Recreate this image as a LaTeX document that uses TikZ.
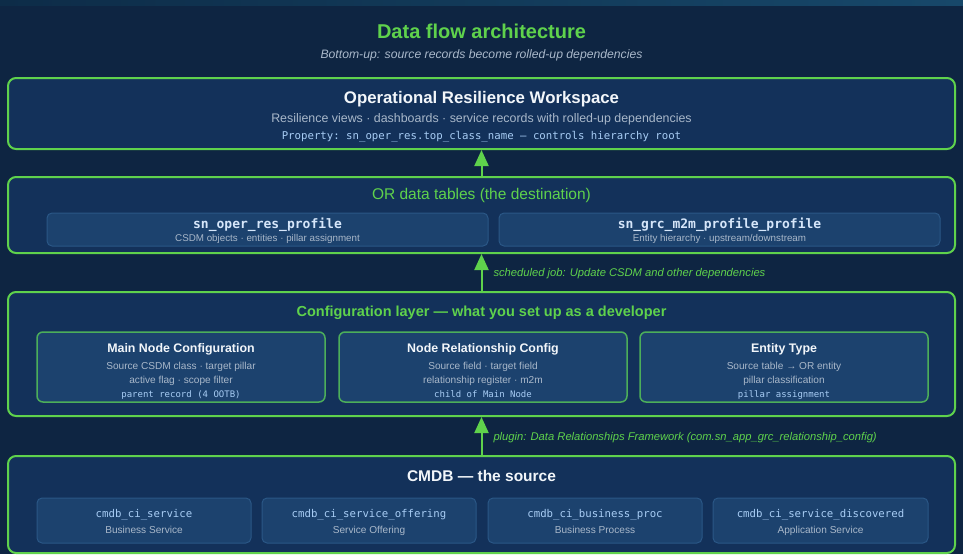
\documentclass[tikz,border=0pt]{standalone}
\usepackage{fontspec}
\setmainfont{Liberation Sans}
\setmonofont{DejaVu Sans Mono}
\usepackage{xcolor}
\usetikzlibrary{positioning}
\usetikzlibrary{arrows.meta}
\usetikzlibrary{calc}

\definecolor{bgnavy}{HTML}{0E2542}
\definecolor{stripleft}{HTML}{0D2C48}
\definecolor{stripright}{HTML}{17486A}
\definecolor{layerfill}{HTML}{13315A}
\definecolor{innerfill}{HTML}{1C426E}
\definecolor{innerline}{HTML}{2A5786}
\definecolor{flowgreen}{HTML}{5FD24C}
\definecolor{cfgline}{HTML}{4CAE5A}
\definecolor{subgray}{HTML}{A9B8CA}
\definecolor{monoblue}{HTML}{A8CDF5}
\definecolor{tableblue}{HTML}{D6E6FA}
\definecolor{headwhite}{HTML}{F2F6FA}

\newcommand{\fsz}[1]{\fontsize{#1}{#1}\selectfont}

\tikzset{
  layer/.style={draw=flowgreen, line width=2pt, fill=layerfill, rounded corners=8pt,
    inner sep=0pt, minimum width=947pt},
  tablebox/.style={draw=innerline, line width=1pt, fill=innerfill, rounded corners=5pt,
    inner sep=0pt},
  cfgbox/.style={draw=cfgline, line width=1.5pt, fill=innerfill, rounded corners=6pt,
    inner sep=0pt, minimum width=288pt, minimum height=70pt},
  txt/.style={inner sep=0pt, anchor=base},
  flow/.style={draw=flowgreen, line width=2pt, -{Triangle[width=14pt,length=16pt]}},
  flowlabel/.style={inner sep=0pt, anchor=base west, text=flowgreen, font=\fsz{11.2}\itshape},
}

\begin{document}
\begin{tikzpicture}[x=1pt, y=-1pt]
\fill[bgnavy] (0,0) rectangle (963,554);
\shade[left color=stripleft, right color=stripright] (0,0) rectangle (963,5);
\useasboundingbox (0,0) rectangle (963,554);

% heading
\node[txt, text=flowgreen, font=\fsz{20}\bfseries] (heading) at (481.5,38) {Data flow architecture};
\node[txt, text=subgray, font=\fsz{12.2}\itshape] (subheading) at (481.5,58) {Bottom-up: source records become rolled-up dependencies};

% workspace
\node[layer, minimum height=71pt] (ows) at (481.5,113.5) {};
\node[txt, text=headwhite, font=\fsz{16.8}\bfseries] (owstitle) at (481.5,103) {Operational Resilience Workspace};
\node[txt, text=subgray, font=\fsz{12.4}] (owsviews) at (481.5,122) {Resilience views · dashboards · service records with rolled-up dependencies};
\node[txt, text=monoblue, font=\fsz{10.7}\ttfamily] (owsprop) at (481.5,139) {Property: sn\_oper\_res.top\_class\_name — controls hierarchy root};

% OR data tables
\node[layer, minimum height=76pt] (ortables) at (481.5,215) {};
\node[txt, text=flowgreen, font=\fsz{15.5}] (ortitle) at (481.5,199) {OR data tables (the destination)};
\node[tablebox, minimum width=441pt, minimum height=33pt] (profile) at (267.5,229.5) {};
\node[tablebox, minimum width=441pt, minimum height=33pt] (m2m) at (719.5,229.5) {};
\node[txt, text=tableblue, font=\fsz{13}\ttfamily\bfseries] at (267.5,228) {sn\_oper\_res\_profile};
\node[txt, text=subgray, font=\fsz{9.8}] at (267.5,241.5) {CSDM objects · entities · pillar assignment};
\node[txt, text=tableblue, font=\fsz{13}\ttfamily\bfseries] at (719.5,228) {sn\_grc\_m2m\_profile\_profile};
\node[txt, text=subgray, font=\fsz{9.8}] at (719.5,241.5) {Entity hierarchy · upstream/downstream};

% configuration layer
\node[layer, minimum height=124pt] (config) at (481.5,354) {};
\node[txt, text=flowgreen, font=\fsz{14.5}\bfseries] (cfgtitle) at (481.5,316) {Configuration layer — what you set up as a developer};

\node[cfgbox] (mainnode) at (181,367) {};
\node[txt, text=headwhite, font=\fsz{12.4}\bfseries] at (181,352.5) {Main Node Configuration};
\node[txt, text=subgray, font=\fsz{10.1}] at (181,369) {Source CSDM class · target pillar};
\node[txt, text=subgray, font=\fsz{10.1}] at (181,383) {active flag · scope filter};
\node[txt, text=monoblue, font=\fsz{9}\ttfamily] at (181,397) {parent record (4 OOTB)};

\node[cfgbox] (relcfg) at (483,367) {};
\node[txt, text=headwhite, font=\fsz{12.4}\bfseries] at (483,352.5) {Node Relationship Config};
\node[txt, text=subgray, font=\fsz{10.1}] at (483,369) {Source field · target field};
\node[txt, text=subgray, font=\fsz{10.1}] at (483,383) {relationship register · m2m};
\node[txt, text=monoblue, font=\fsz{9}\ttfamily] at (483,397) {child of Main Node};

\node[cfgbox] (entity) at (784,367) {};
\node[txt, text=headwhite, font=\fsz{12.4}\bfseries] at (784,352.5) {Entity Type};
\node[txt, text=subgray, font=\fsz{10.1}] at (784,369) {Source table → OR entity};
\node[txt, text=subgray, font=\fsz{10.1}] at (784,383) {pillar classification};
\node[txt, text=monoblue, font=\fsz{9}\ttfamily] at (784,397) {pillar assignment};

% CMDB
\node[layer, minimum height=97pt] (cmdb) at (481.5,504.5) {};
\node[txt, text=headwhite, font=\fsz{15.5}\bfseries] (cmdbtitle) at (481.5,481) {CMDB — the source};
\node[tablebox, minimum width=214pt, minimum height=45pt] (svc) at (144,520.5) {};
\node[tablebox, minimum width=214pt, minimum height=45pt] (offering) at (369,520.5) {};
\node[tablebox, minimum width=214pt, minimum height=45pt] (proc) at (595,520.5) {};
\node[tablebox, minimum width=215pt, minimum height=45pt] (discovered) at (820.5,520.5) {};
\node[txt, text=monoblue, font=\fsz{10.7}\ttfamily] at (144,517) {cmdb\_ci\_service};
\node[txt, text=subgray, font=\fsz{10.1}] at (144,533.5) {Business Service};
\node[txt, text=monoblue, font=\fsz{10.7}\ttfamily] at (369,517) {cmdb\_ci\_service\_offering};
\node[txt, text=subgray, font=\fsz{10.1}] at (369,533.5) {Service Offering};
\node[txt, text=monoblue, font=\fsz{10.7}\ttfamily] at (595,517) {cmdb\_ci\_business\_proc};
\node[txt, text=subgray, font=\fsz{10.1}] at (595,533.5) {Business Process};
\node[txt, text=monoblue, font=\fsz{10.7}\ttfamily] at (820.5,517) {cmdb\_ci\_service\_discovered};
\node[txt, text=subgray, font=\fsz{10.1}] at (820.5,533.5) {Application Service};

% flows
\draw[flow] (ortables.north) -- (ows.south);
\draw[flow] (config.north) -- node[flowlabel, pos=0.5, xshift=11pt, yshift=-4pt] {scheduled job: Update CSDM and other dependencies} (ortables.south);
\draw[flow] (cmdb.north) -- node[flowlabel, pos=0.5, xshift=11pt, yshift=-4pt] {plugin: Data Relationships Framework (com.sn\_app\_grc\_relationship\_config)} (config.south);
\end{tikzpicture}
\end{document}
